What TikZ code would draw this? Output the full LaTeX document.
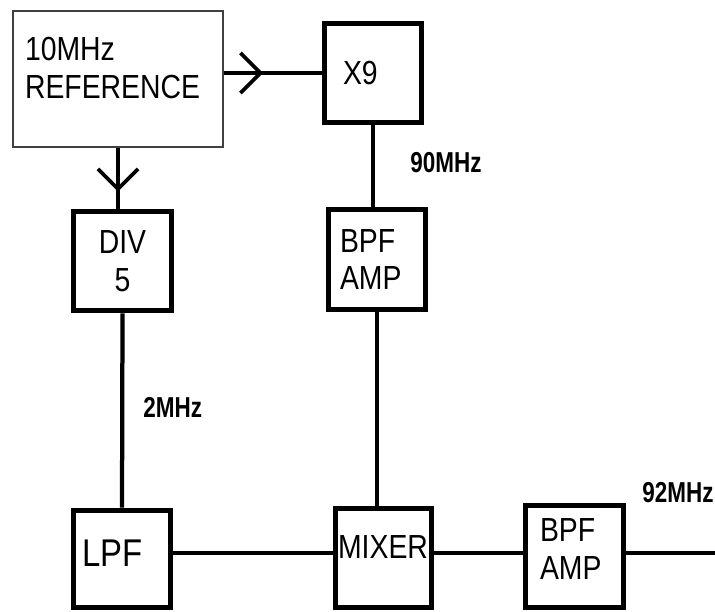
\documentclass[tikz,border=0pt]{standalone}
\usepackage{fontspec}
\setmainfont{Liberation Sans}[FakeStretch=0.85]
\newfontfamily\freqfont{Liberation Sans}[FakeStretch=0.78]
\usetikzlibrary{positioning, arrows.meta, decorations.markings}

\begin{document}
\begin{tikzpicture}[
    x=0.02cm, y=-0.02cm,
    % Custom styles for the blocks and the connecting lines
    blk/.style={draw, line width=0.1cm, inner sep=0pt,
        minimum width=1.95cm, minimum height=2cm,
        font=\fontsize{19}{21.6}\selectfont},
    refblk/.style={draw=black!75, line width=0.04cm, inner sep=0pt,
        minimum width=4.2cm, minimum height=2.72cm,
        font=\fontsize{19}{21.6}\selectfont},
    conn/.style={line width=0.085cm},
    freq/.style={font=\freqfont\bfseries\fontsize{16.4}{18}\selectfont, anchor=west, inner sep=0pt},
    % open arrow head placed part way along a line
    barb/.style={postaction={decorate}, decoration={markings,
        mark=at position #1 with {\arrow[line width=0.075cm]{Straight Barb[length=0.4cm, width=0.8cm]}}}}
]
\useasboundingbox (0,0) rectangle (715,611);

% ==========================================
% TOP: REFERENCE AND MULTIPLIER
% ==========================================
\node[refblk, text width=3.72cm, align=left, text depth=34pt] (ref) at (118,79) {10MHz\\REFERENCE};
\node[blk, text width=1.2cm, align=left] (x9) at (373,73) {X9};
\node[blk, text width=1.5cm, align=center] (div) at (122.5,261) {DIV\\5};
\node[blk, minimum height=2.02cm, text width=1.48cm, align=left] (bpfa) at (377,259.5) {BPF\\AMP};

% ==========================================
% BOTTOM: FILTER, MIXER AND OUTPUT AMP
% ==========================================
\node[blk, minimum height=1.94cm, text width=1.6cm, align=left, text depth=5.7pt,
    font=\fontsize{22}{26}\selectfont] (lpf) at (122,558.5) {LPF};
\node[blk, minimum width=1.92cm, minimum height=1.98cm, text width=1.92cm, align=center,
    text depth=11.4pt] (mix) at (383,557.5) {MIXER};
\node[blk, minimum height=2.04cm, text width=1.38cm, align=left, text depth=30pt] (bpfb) at (574.5,556) {BPF\\AMP};

% 2. The frequency labels
\node[freq] (f90) at (410,163) {90MHz};
\node[freq] (f2) at (143,407) {2MHz};
\node[freq] (f92) at (642,493) {92MHz};

% 3. The connecting lines
\coordinate (bus) at (0,553);
\coordinate (out) at (720,553);
\draw[conn, barb=0.4] (ref.east |- x9.west) -- (x9.west);
\draw[conn, barb=0.72] (ref.south) -- (ref.south |- div.north);
\draw[conn] (x9.south) -- (x9.south |- bpfa.north);
\draw[conn] (div.south) -- (lpf.north);
\draw[conn] (bpfa.south) -- (bpfa.south |- mix.north);
\draw[conn] (lpf.east |- bus) -- (mix.west |- bus);
\draw[conn] (mix.east |- bus) -- (bpfb.west |- bus);
\draw[conn] (bpfb.east |- bus) -- (out);

\end{tikzpicture}
\end{document}
